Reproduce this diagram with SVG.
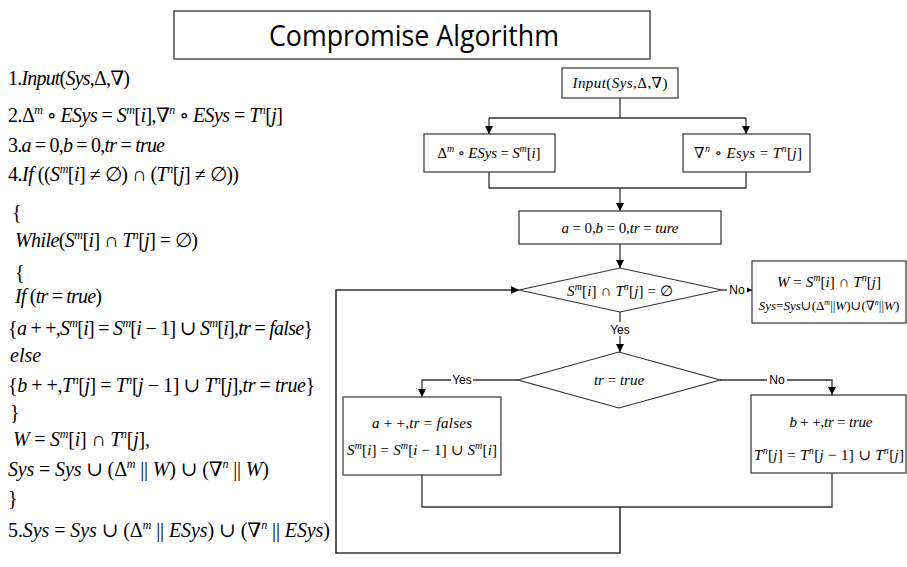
<svg xmlns="http://www.w3.org/2000/svg" width="907" height="567" viewBox="0 0 907 567">
  <style>
    .t { font-family: "Liberation Serif", "DejaVu Serif", serif; font-size: 20px; fill: #000; }
    .f { font-family: "Liberation Serif", "DejaVu Serif", serif; font-size: 15px; fill: #000; }
    .fs { font-family: "Liberation Serif", "DejaVu Serif", serif; font-size: 13px; fill: #000; }
    .i { font-style: italic; }
    .s { font-style: italic; font-size: 12px; }
    .sf { font-style: italic; font-size: 10px; }
    .ss { font-style: italic; font-size: 8px; }
    .lbl { font-family: "Liberation Sans", Arial, sans-serif; font-size: 12px; fill: #000; }
    .box { fill: #fff; stroke: #333; stroke-width: 1.2; }
    .ln { fill: none; stroke: #333; stroke-width: 1.3; }
    .title { font-family: "Open Sans", "Liberation Sans", sans-serif; font-size: 29px; fill: #000; }
  </style>
  <defs>
    <marker id="arr" viewBox="0 0 10 10" refX="10" refY="5" markerWidth="8" markerHeight="8" markerUnits="userSpaceOnUse" orient="auto">
      <path d="M0,0 L10,5 L0,10 z" fill="#000"/>
    </marker>
  </defs>
  <rect width="907" height="567" fill="#fff"/>

  <!-- title -->
  <g id="title">
    <rect x="174" y="11" width="476" height="48" fill="#fff" stroke="#222" stroke-width="1.2"/>
    <text class="title" x="414" y="46" text-anchor="middle" textLength="290" lengthAdjust="spacingAndGlyphs">Compromise Algorithm</text>
  </g>

  <!-- pseudocode listing -->
  <g id="listing" class="t">
    <text x="8" y="85" textLength="122">1.<tspan class="i">Input</tspan>(<tspan class="i">Sys</tspan>,Δ,∇)</text>
    <text x="8" y="122" textLength="275">2.Δ<tspan class="s" dy="-8">m</tspan><tspan dy="8"> ∘ </tspan><tspan class="i">ESys</tspan> = <tspan class="i">S</tspan><tspan class="s" dy="-8">m</tspan><tspan dy="8">[</tspan><tspan class="i">i</tspan>],∇<tspan class="s" dy="-8">n</tspan><tspan dy="8"> ∘ </tspan><tspan class="i">ESys</tspan> = <tspan class="i">T</tspan><tspan class="s" dy="-8">n</tspan><tspan dy="8">[</tspan><tspan class="i">j</tspan>]</text>
    <text x="8" y="152" textLength="157">3.<tspan class="i">a</tspan> = 0,<tspan class="i">b</tspan> = 0,<tspan class="i">tr</tspan> = <tspan class="i">true</tspan></text>
    <text x="8" y="181" textLength="231">4.<tspan class="i">If</tspan> ((<tspan class="i">S</tspan><tspan class="s" dy="-8">m</tspan><tspan dy="8">[</tspan><tspan class="i">i</tspan>] ≠ ∅) ∩ (<tspan class="i">T</tspan><tspan class="s" dy="-8">n</tspan><tspan dy="8">[</tspan><tspan class="i">j</tspan>] ≠ ∅))</text>
    <text x="12" y="219">{</text>
    <text x="15" y="247" textLength="183"><tspan class="i">While</tspan>(<tspan class="i">S</tspan><tspan class="s" dy="-8">m</tspan><tspan dy="8">[</tspan><tspan class="i">i</tspan>] ∩ <tspan class="i">T</tspan><tspan class="s" dy="-8">n</tspan><tspan dy="8">[</tspan><tspan class="i">j</tspan>] = ∅)</text>
    <text x="15" y="279">{</text>
    <text x="15" y="303" textLength="87"><tspan class="i">If</tspan> (<tspan class="i">tr</tspan> = <tspan class="i">true</tspan>)</text>
    <text x="8" y="335" textLength="305">{<tspan class="i">a</tspan> + +,<tspan class="i">S</tspan><tspan class="s" dy="-8">m</tspan><tspan dy="8">[</tspan><tspan class="i">i</tspan>] = <tspan class="i">S</tspan><tspan class="s" dy="-8">m</tspan><tspan dy="8">[</tspan><tspan class="i">i</tspan> − 1] ∪ <tspan class="i">S</tspan><tspan class="s" dy="-8">m</tspan><tspan dy="8">[</tspan><tspan class="i">i</tspan>],<tspan class="i">tr</tspan> = <tspan class="i">false</tspan>}</text>
    <text x="10" y="362" class="i">else</text>
    <text x="8" y="392" textLength="307">{<tspan class="i">b</tspan> + +,<tspan class="i">T</tspan><tspan class="s" dy="-8">n</tspan><tspan dy="8">[</tspan><tspan class="i">j</tspan>] = <tspan class="i">T</tspan><tspan class="s" dy="-8">n</tspan><tspan dy="8">[</tspan><tspan class="i">j</tspan> − 1] ∪ <tspan class="i">T</tspan><tspan class="s" dy="-8">n</tspan><tspan dy="8">[</tspan><tspan class="i">j</tspan>],<tspan class="i">tr</tspan> = <tspan class="i">true</tspan>}</text>
    <text x="10" y="419">}</text>
    <text x="13" y="446" textLength="137"><tspan class="i">W</tspan> = <tspan class="i">S</tspan><tspan class="s" dy="-8">m</tspan><tspan dy="8">[</tspan><tspan class="i">i</tspan>] ∩ <tspan class="i">T</tspan><tspan class="s" dy="-8">n</tspan><tspan dy="8">[</tspan><tspan class="i">j</tspan>],</text>
    <text x="8" y="476" textLength="261"><tspan class="i">Sys</tspan> = <tspan class="i">Sys</tspan> ∪ (Δ<tspan class="s" dy="-8">m</tspan><tspan dy="8"> || </tspan><tspan class="i">W</tspan>) ∪ (∇<tspan class="s" dy="-8">n</tspan><tspan dy="8"> || </tspan><tspan class="i">W</tspan>)</text>
    <text x="8" y="505">}</text>
    <text x="8" y="537" textLength="322">5.<tspan class="i">Sys</tspan> = <tspan class="i">Sys</tspan> ∪ (Δ<tspan class="s" dy="-8">m</tspan><tspan dy="8"> || </tspan><tspan class="i">ESys</tspan>) ∪ (∇<tspan class="s" dy="-8">n</tspan><tspan dy="8"> || </tspan><tspan class="i">ESys</tspan>)</text>
  </g>

  <!-- connectors -->
  <g id="connectors" class="ln">
    <path d="M620,98 V118"/>
    <path d="M489,118 H746"/>
    <path d="M489,118 V134" marker-end="url(#arr)"/>
    <path d="M746,118 V134" marker-end="url(#arr)"/>
    <path d="M489,172 V188 H746 V172"/>
    <path d="M620,188 V211" marker-end="url(#arr)"/>
    <path d="M620,244 V268" marker-end="url(#arr)"/>
    <path d="M722,290 H752" marker-end="url(#arr)"/>
    <path d="M620,312 V352" marker-end="url(#arr)"/>
    <path d="M518,380 H422 V397" marker-end="url(#arr)"/>
    <path d="M720,380 H832 V395" marker-end="url(#arr)"/>
    <path d="M422,475 V507 H832 V473"/>
    <path d="M620,507 V553 H336 V290 H519" marker-end="url(#arr)" stroke-width="1.6"/>
  </g>

  <!-- branch labels -->
  <g id="labels" class="lbl">
    <rect x="727" y="283" width="20" height="14" fill="#fff"/>
    <text x="737" y="294" text-anchor="middle">No</text>
    <rect x="609" y="322" width="22" height="14" fill="#fff"/>
    <text x="620" y="334" text-anchor="middle">Yes</text>
    <rect x="451" y="373" width="22" height="14" fill="#fff"/>
    <text x="462" y="384" text-anchor="middle">Yes</text>
    <rect x="767" y="373" width="20" height="14" fill="#fff"/>
    <text x="777" y="384" text-anchor="middle">No</text>
  </g>

  <g id="input">
    <rect class="box" x="562" y="68" width="116" height="30"/>
    <text class="f" x="620" y="88" text-anchor="middle" textLength="95"><tspan class="i">Input</tspan>(<tspan class="i">Sys</tspan>,Δ,∇)</text>
  </g>

  <g id="split-s">
    <rect class="box" x="424" y="134" width="131" height="38"/>
    <text class="f" x="489" y="158" text-anchor="middle" textLength="103">Δ<tspan class="sf" dy="-6">m</tspan><tspan dy="6"> ∘ </tspan><tspan class="i">ESys</tspan> = <tspan class="i">S</tspan><tspan class="sf" dy="-6">m</tspan><tspan dy="6">[</tspan><tspan class="i">i</tspan>]</text>
  </g>

  <g id="split-t">
    <rect class="box" x="683" y="134" width="127" height="38"/>
    <text class="f" x="748" y="158" text-anchor="middle" textLength="108">∇<tspan class="sf" dy="-6">n</tspan><tspan dy="6"> ∘ </tspan><tspan class="i">Esys</tspan> = <tspan class="i">T</tspan><tspan class="sf" dy="-6">n</tspan><tspan dy="6">[</tspan><tspan class="i">j</tspan>]</text>
  </g>

  <g id="init">
    <rect class="box" x="519" y="211" width="202" height="33"/>
    <text class="f" x="620" y="233" text-anchor="middle" textLength="117"><tspan class="i">a</tspan> = 0,<tspan class="i">b</tspan> = 0,<tspan class="i">tr</tspan> = <tspan class="i">ture</tspan></text>
  </g>

  <g id="check-empty">
    <polygon class="box" points="519,290 620,268 722,290 620,312"/>
    <text class="f" x="620" y="296" text-anchor="middle" textLength="106"><tspan class="i">S</tspan><tspan class="sf" dy="-6">m</tspan><tspan dy="6">[</tspan><tspan class="i">i</tspan>] ∩ <tspan class="i">T</tspan><tspan class="sf" dy="-6">n</tspan><tspan dy="6">[</tspan><tspan class="i">j</tspan>] = ∅</text>
  </g>

  <g id="merge-result">
    <rect class="box" x="752" y="261" width="154" height="62"/>
    <text class="f" x="829" y="287" text-anchor="middle" textLength="104"><tspan class="i">W</tspan> = <tspan class="i">S</tspan><tspan class="sf" dy="-6">m</tspan><tspan dy="6">[</tspan><tspan class="i">i</tspan>] ∩ <tspan class="i">T</tspan><tspan class="sf" dy="-6">n</tspan><tspan dy="6">[</tspan><tspan class="i">j</tspan>]</text>
    <text class="fs" x="829" y="310" text-anchor="middle"><tspan class="i">Sys</tspan>=<tspan class="i">Sys</tspan>∪(Δ<tspan class="ss" dy="-5">m</tspan><tspan dy="5">||</tspan><tspan class="i">W</tspan>)∪(∇<tspan class="ss" dy="-5">n</tspan><tspan dy="5">||</tspan><tspan class="i">W</tspan>)</text>
  </g>

  <g id="check-tr">
    <polygon class="box" points="518,380 619,352 720,380 619,408"/>
    <text class="f" x="619" y="385" text-anchor="middle"><tspan class="i">tr</tspan> = <tspan class="i">true</tspan></text>
  </g>

  <g id="step-s">
    <rect class="box" x="343" y="397" width="158" height="78"/>
    <text class="f" x="422" y="428" text-anchor="middle" textLength="100"><tspan class="i">a</tspan> + +,<tspan class="i">tr</tspan> = <tspan class="i">falses</tspan></text>
    <text class="f" x="422" y="455" text-anchor="middle" textLength="150"><tspan class="i">S</tspan><tspan class="sf" dy="-6">m</tspan><tspan dy="6">[</tspan><tspan class="i">i</tspan>] = <tspan class="i">S</tspan><tspan class="sf" dy="-6">m</tspan><tspan dy="6">[</tspan><tspan class="i">i</tspan> − 1] ∪ <tspan class="i">S</tspan><tspan class="sf" dy="-6">m</tspan><tspan dy="6">[</tspan><tspan class="i">i</tspan>]</text>
  </g>

  <g id="step-t">
    <rect class="box" x="751" y="395" width="155" height="78"/>
    <text class="f" x="831" y="427" text-anchor="middle" textLength="83"><tspan class="i">b</tspan> + +,<tspan class="i">tr</tspan> = <tspan class="i">true</tspan></text>
    <text class="f" x="829" y="460" text-anchor="middle" textLength="150"><tspan class="i">T</tspan><tspan class="sf" dy="-6">n</tspan><tspan dy="6">[</tspan><tspan class="i">j</tspan>] = <tspan class="i">T</tspan><tspan class="sf" dy="-6">n</tspan><tspan dy="6">[</tspan><tspan class="i">j</tspan> − 1] ∪ <tspan class="i">T</tspan><tspan class="sf" dy="-6">n</tspan><tspan dy="6">[</tspan><tspan class="i">j</tspan>]</text>
  </g>
</svg>
